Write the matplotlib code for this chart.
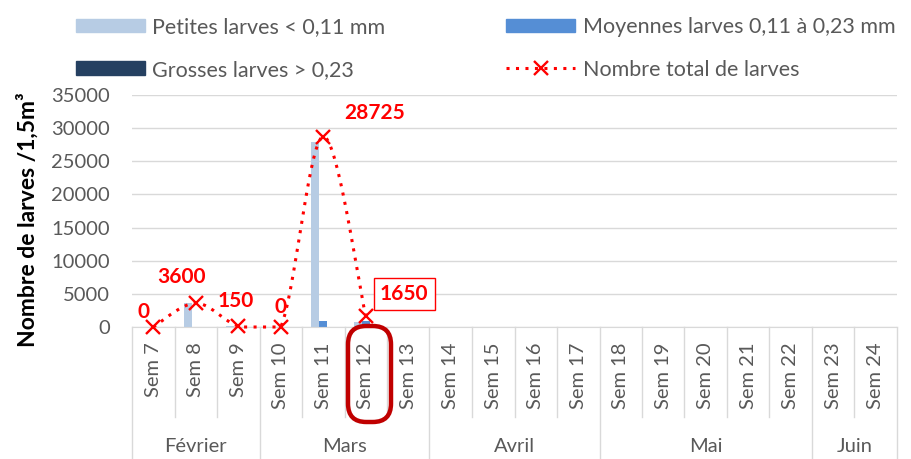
import matplotlib
matplotlib.use("Agg")
import matplotlib.pyplot as plt
from matplotlib.patches import Patch, FancyBboxPatch
from matplotlib.lines import Line2D
from matplotlib.bezier import BezierSegment
import matplotlib.transforms as mtransforms
import numpy as np

plt.rcParams['font.family'] = ['Lato', 'DejaVu Sans']

weeks = ["Sem 7", "Sem 8", "Sem 9", "Sem 10", "Sem 11", "Sem 12", "Sem 13", "Sem 14",
         "Sem 15", "Sem 16", "Sem 17", "Sem 18", "Sem 19", "Sem 20", "Sem 21", "Sem 22",
         "Sem 23", "Sem 24"]
months = ["Février", "Mars", "Avril", "Mai", "Juin"]
month_sizes = [3, 4, 4, 5, 2]

petites = [0, 3600, 150, 0, 27875, 700] + [0] * 12
moyennes = [0, 0, 0, 0, 850, 950] + [0] * 12
grosses = [0] * 18
total = [0, 3600, 150, 0, 28725, 1650]
total_labels = ["0", "3600", "150", "0", "28725", "1650"]

c_pet = "#B7CCE4"
c_moy = "#558ED5"
c_gro = "#254061"
red = "#FF0000"
grey_txt = "#595959"
grid_c = "#D9D9D9"

W, H = 912, 459
fig = plt.figure(figsize=(W / 100, H / 100), dpi=100)
ax_l, ax_r, ax_t, ax_b = 132, 897, 95, 327
ax = fig.add_axes([ax_l / W, 1 - ax_b / H, (ax_r - ax_l) / W, (ax_b - ax_t) / H])

n = len(weeks)
x = np.arange(n)
bw = 0.19
ax.bar(x - bw, petites, bw, color=c_pet, zorder=2)
ax.bar(x, moyennes, bw, color=c_moy, zorder=2)
ax.bar(x + bw, grosses, bw, color=c_gro, zorder=2)

# smoothed total line (Excel-like Catmull-Rom bezier), kept inside the plot area
xt = np.arange(len(total), dtype=float)
yt = np.array(total, dtype=float)
pts = np.column_stack([xt, yt])
curve = [pts[:1]]
tt = np.linspace(0, 1, 60)[1:]
for i in range(len(pts) - 1):
    p0 = pts[max(i - 1, 0)]
    p1 = pts[i]
    p2 = pts[i + 1]
    p3 = pts[min(i + 2, len(pts) - 1)]
    seg = BezierSegment(np.array([p1, p1 + (p2 - p0) / 6, p2 - (p3 - p1) / 6, p2]))
    curve.append(seg(tt))
curve = np.vstack(curve)
ax.plot(curve[:, 0], np.maximum(curve[:, 1], 0), color=red, lw=2.2,
        linestyle=(0, (1, 2.1)), zorder=3, clip_on=False)
ax.plot(xt, yt, linestyle="none", marker="x", color=red, ms=10, mew=1.7, zorder=4, clip_on=False)

# data labels (offsets in pixels)
offsets = [(-10, 5), (-14, 16), (-3, 15), (0, 10), (51, 14)]
for i, (dx, dy) in enumerate(offsets):
    ax.annotate(total_labels[i], (xt[i], yt[i]), xytext=(dx, dy), textcoords="offset pixels",
                fontsize=15, fontweight="bold", color=red, ha="center", va="bottom", zorder=5)
ax.annotate(total_labels[5], (xt[5], yt[5]), xytext=(14, 12), textcoords="offset pixels",
            fontsize=15, fontweight="bold", color=red, ha="left", va="bottom", zorder=5,
            bbox=dict(boxstyle="square,pad=0.3", fc="white", ec=red, lw=1))

ax.set_xlim(-0.5, n - 0.5)
ax.set_ylim(0, 35000)
ax.set_yticks(np.arange(0, 35001, 5000))
ax.yaxis.grid(True, color=grid_c, lw=1, zorder=0)
ax.set_axisbelow(True)
for s in ["top", "right", "left"]:
    ax.spines[s].set_visible(False)
ax.spines["bottom"].set_color(grid_c)
ax.tick_params(axis="y", length=0, labelsize=14.5, labelcolor=grey_txt, pad=16)
ax.set_xticks(x)
ax.set_xticklabels(weeks, rotation=90, fontsize=14.5, color=grey_txt, va="top")
ax.tick_params(axis="x", length=0, pad=11)

ax.set_ylabel("Nombre de larves /1,5m³", fontsize=16.5, fontweight="bold", color="black")
ax.yaxis.set_label_coords((39 - ax_l) / (ax_r - ax_l), (ax_b - 220) / (ax_b - ax_t))

# category separators
trans = mtransforms.blended_transform_factory(ax.transData, ax.transAxes)
h_ax = ax_b - ax_t
short_y = -(417 - ax_b) / h_ax
long_y = -(H - ax_b) / h_ax
month_y = -(447 - ax_b) / h_ax
bounds = np.cumsum([0] + month_sizes) - 0.5
for k in range(n + 1):
    xb = k - 0.5
    yend = long_y if xb in bounds else short_y
    ax.plot([xb, xb], [0, yend], color=grid_c, lw=1, transform=trans, clip_on=False)
for m, a, b in zip(months, bounds[:-1], bounds[1:]):
    ax.text((a + b) / 2, month_y, m, transform=trans, ha="center", va="center",
            fontsize=14.5, color=grey_txt)

# highlight box around Sem 12
fig.patches.append(FancyBboxPatch((348 / W, 1 - 422 / H), 43 / W, 96 / H,
                                  boxstyle="round,pad=0,rounding_size=0.02",
                                  transform=fig.transFigure, fill=False,
                                  edgecolor="#C00000", lw=3.2, mutation_aspect=2.0))

# legend
handles = [Patch(color=c_pet), Patch(color=c_gro), Patch(color=c_moy),
           Line2D([0], [0], color=red, ls=(0, (1, 2.1)), lw=2.2, marker="x", ms=10, mew=1.7)]
labels = ["Petites larves < 0,11 mm", "Grosses larves > 0,23",
          "Moyennes larves 0,11 à 0,23 mm", "Nombre total de larves"]
fig.legend(handles, labels, ncol=2, loc="upper left", bbox_to_anchor=(76 / W, 1 - 17 / H),
           frameon=False, fontsize=15.5, labelcolor=grey_txt, handlelength=3.2,
           handleheight=0.6, columnspacing=5.6, handletextpad=0.35, labelspacing=1.05,
           borderpad=0, borderaxespad=0)

fig.savefig("out.png", dpi=100)
